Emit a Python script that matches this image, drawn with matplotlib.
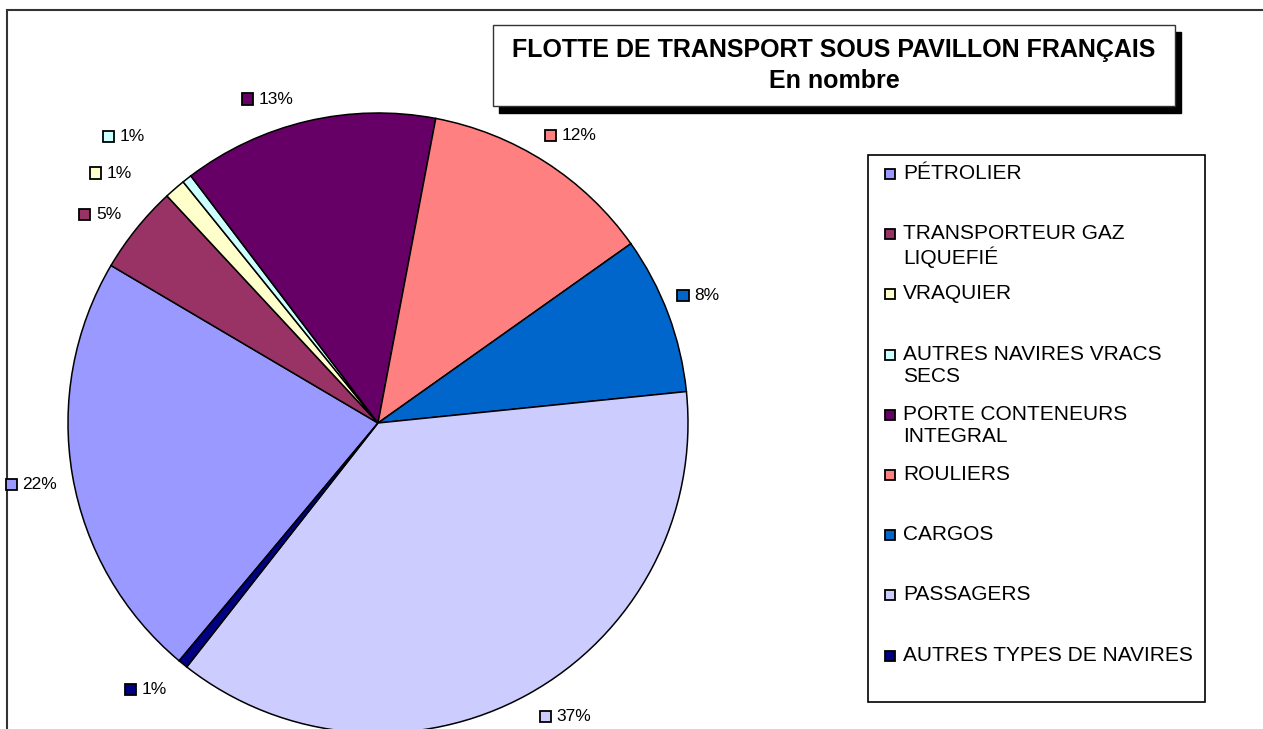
import matplotlib
matplotlib.use("Agg")
import matplotlib.pyplot as plt
from matplotlib.patches import Rectangle
from matplotlib.offsetbox import DrawingArea, TextArea, HPacker, AnnotationBbox
import numpy as np

plt.rcParams['font.family'] = ['Liberation Sans', 'DejaVu Sans']

# data (share of the fleet, in %)
categories = ['PÉTROLIER', 'TRANSPORTEUR GAZ LIQUEFIÉ', 'VRAQUIER',
              'AUTRES NAVIRES VRACS SECS', 'PORTE CONTENEURS INTEGRAL',
              'ROULIERS', 'CARGOS', 'PASSAGERS', 'AUTRES TYPES DE NAVIRES']
legend_labels = ['PÉTROLIER', 'TRANSPORTEUR GAZ\nLIQUEFIÉ', 'VRAQUIER',
                 'AUTRES NAVIRES VRACS\nSECS', 'PORTE CONTENEURS\nINTEGRAL',
                 'ROULIERS', 'CARGOS', 'PASSAGERS', 'AUTRES TYPES DE NAVIRES']
shares = [22.4, 4.6, 1.1, 0.5, 13.3, 12.2, 8.2, 37.2, 0.5]
pct_labels = ['22%', '5%', '1%', '1%', '13%', '12%', '8%', '37%', '1%']
colors = ['#9999FF', '#993366', '#FFFFCC', '#CCFFFF', '#660066',
          '#FF8080', '#0066CC', '#CCCCFF', '#000080']

W, H = 1263, 729
def py(y):
    return H - y

fig = plt.figure(figsize=(W / 100, H / 100), dpi=100)
ax = fig.add_axes([0, 0, 1, 1])

cx, cy, R = 378, py(423), 310
start = 230.1
wedges, _ = ax.pie(shares, colors=colors, startangle=start, counterclock=False,
                   center=(cx, cy), radius=R,
                   wedgeprops=dict(edgecolor='black', linewidth=1.1))

ax.set_xlim(0, W)
ax.set_ylim(0, H)
ax.set_aspect('equal')
ax.axis('off')

# outer chart frame
ax.add_patch(Rectangle((7, py(10) - 800), 1400, 800, fill=False,
                       edgecolor='#333333', linewidth=1.5, zorder=0))

# percentage labels, pushed outward from the middle of each wedge (pixel nudges)
nudges = {0: (9, 5), 1: (4, 1), 2: (-27, 3), 3: (-27, -23), 4: (-8, 2),
          5: (-14, -6), 6: (-14, -10), 8: (0, 6)}
for i, w in enumerate(wedges):
    mid = np.deg2rad((w.theta1 + w.theta2) / 2)
    ax_x = cx + 1.08 * R * np.cos(mid)
    ax_y = cy + 1.08 * R * np.sin(mid)
    dx, dy = nudges.get(i, (0, 0))
    ax_x += dx
    ax_y -= dy
    da = DrawingArea(8, 8, 0, 0)
    da.add_artist(Rectangle((0, 0), 8, 8, facecolor=colors[i],
                            edgecolor='black', linewidth=1.3))
    ta = TextArea(pct_labels[i], textprops=dict(fontsize=12.5, color='black'))
    box = HPacker(children=[da, ta], sep=4, pad=0, align='center')
    left_side = np.cos(mid) < -0.05
    ab = AnnotationBbox(box, (ax_x, ax_y), frameon=False, pad=0,
                        box_alignment=(1, 0.5) if left_side else (0, 0.5))
    ax.add_artist(ab)

# title box with shadow
tx0, ty0, tx1, ty1 = 493, 25, 1175, 106
ax.add_patch(Rectangle((tx0 + 6, py(ty1 + 7)), tx1 - tx0, ty1 - ty0,
                       facecolor='black', edgecolor='black', zorder=3))
ax.add_patch(Rectangle((tx0, py(ty1)), tx1 - tx0, ty1 - ty0,
                       facecolor='white', edgecolor='#333333', linewidth=1.0, zorder=4))
ax.text((tx0 + tx1) / 2, py(50), 'FLOTTE DE TRANSPORT SOUS PAVILLON FRANÇAIS',
        ha='center', va='center', fontsize=18, fontweight='bold', zorder=5)
ax.text((tx0 + tx1) / 2, py(81), 'En nombre',
        ha='center', va='center', fontsize=18, fontweight='bold', zorder=5)

# legend box
lx0, ly0, lx1, ly1 = 868, 155, 1205, 702
ax.add_patch(Rectangle((lx0, py(ly1)), lx1 - lx0, ly1 - ly0,
                       facecolor='white', edgecolor='black', linewidth=1.2, zorder=4))
step = 60.2
for i, lab in enumerate(legend_labels):
    y = 174 + step * i
    ax.add_patch(Rectangle((885, py(y) - 5), 10, 10, facecolor=colors[i],
                           edgecolor='black', linewidth=1.3, zorder=5))
    ax.text(903, py(y - 10), lab, ha='left', va='top', fontsize=15,
            linespacing=1.2, zorder=5)

fig.savefig('out.png', dpi=100)
